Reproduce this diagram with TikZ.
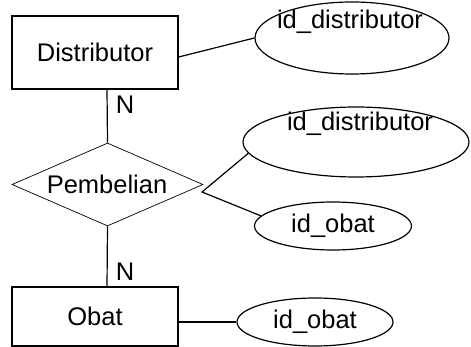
\documentclass[tikz,border=0pt]{standalone}
\usepackage{fontspec}
\setmainfont{Liberation Sans}
\usetikzlibrary{shapes.geometric}
\begin{document}
\begin{tikzpicture}[x=1pt,y=-1pt,
  every node/.style={font=\fontsize{25.5}{30}\selectfont, inner sep=0pt},
  entity/.style={draw, line width=1.3pt, minimum width=166pt, minimum height=#1},
  attr/.style={draw, ellipse, line width=1.2pt},
  rel/.style={draw, diamond, line width=0.7pt, minimum width=191pt, minimum height=83pt},
  conn/.style={line width=1.2pt},
  lbl/.style={}]
\useasboundingbox (0,0) rectangle (471,347);
\node[entity=73pt] (d) at (95,52.5) {Distributor};
\node[entity=59pt] (o) at (95,316.5) {Obat};
\node[rel] (p) at (107.5,184.5) {};
\node (pt) at (107,184) {Pembelian};
\node[attr, minimum width=194pt, minimum height=72pt] (e1) at (352,38) {};
\node (t1) at (350,22) {id\_distributor};
\node[attr, minimum width=226pt, minimum height=70pt] (e2) at (356,142) {};
\node (t2) at (360,124) {id\_distributor};
\node[attr, minimum width=157pt, minimum height=48pt] (e3) at (333,226) {id\_obat};
\node[attr, minimum width=156pt, minimum height=48pt] (e4) at (315,322) {id\_obat};
\coordinate (pv) at (202,192);
\node[lbl] (n1) at (125,105) {N};
\node[lbl] (n2) at (125,272) {N};
\draw[conn] ([yshift=-4.5pt]d.east) -- (e1.west);
\draw[conn] ([xshift=12pt]d.south) -- (p.north);
\draw[conn] (p.south) -- ([xshift=12pt]o.north);
\draw[conn] ([yshift=-5.5pt]o.east) -- (e4.west);
\draw[conn] (e2.186) -- (pv) -- (e3.172);
\end{tikzpicture}
\end{document}
